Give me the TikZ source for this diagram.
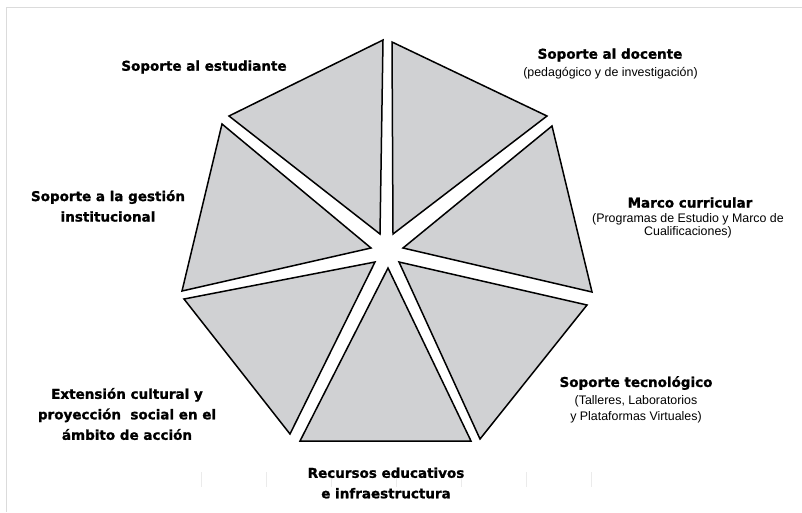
\documentclass[tikz,border=0pt]{standalone}
\usepackage{fontspec}
\setmainfont{Liberation Sans}
\newfontfamily\hdfont{DejaVu Sans}[BoldFeatures={FakeBold=1.2}]
\definecolor{trifill}{RGB}{208,209,211}
\begin{document}
\begin{tikzpicture}[x=1pt,y=-1pt,
  tri/.style={draw=black, line width=1.5pt, fill=trifill, line join=miter},
  hd/.style={font=\hdfont\bfseries\fontsize{13.5}{20.5}\selectfont, align=center, inner sep=0pt},
  sb/.style={font=\fontsize{12.4}{14}\selectfont, align=center, inner sep=0pt},
  framel/.style={draw=black!14, line width=1pt},
  tickl/.style={draw=black!8, line width=0.8pt}]
\useasboundingbox (0,0) rectangle (802,512);
% faint frame
\draw[framel] (802,7) -- (6,7) -- (6,512);
% faint ticks
\foreach \tx in {201.7,266.7,331.7,396.7,461.7,526.7,591.7}
  \draw[tickl] (\tx,472) -- (\tx,487);
% triangles
\filldraw[tri] (383,40) -- (229,116) -- (380,234) -- cycle;
\filldraw[tri] (392,42) -- (547,116) -- (393,234) -- cycle;
\filldraw[tri] (552,126) -- (592,292) -- (403,248) -- cycle;
\filldraw[tri] (587,305) -- (480,439) -- (399,262) -- cycle;
\filldraw[tri] (471,441) -- (300,441) -- (388,268) -- cycle;
\filldraw[tri] (290,434) -- (184,299) -- (375,262) -- cycle;
\filldraw[tri] (182,291) -- (222,124) -- (371,248) -- cycle;
% labels
\node[hd] (est) at (204,67) {Soporte al estudiante};
\node[hd] (doc) at (610,55) {Soporte al docente};
\node[sb] (docs) at (610.5,73.5) {(pedagógico y de investigación)};
\node[hd] (mar) at (690,202.5) {Marco curricular};
\node[sb, font=\fontsize{12.4}{13.3}\selectfont] (mars) at (688,226) {(Programas de Estudio y Marco de\\Cualificaciones)};
\node[hd] (ges) at (108,206) {Soporte a la gestión\\institucional};
\node[hd] (tec) at (636,383) {Soporte tecnológico};
\node[sb, font=\fontsize{12.4}{16}\selectfont] (tecs) at (636,409) {(Talleres, Laboratorios\\y Plataformas Virtuales)};
\node[hd] (ext) at (127,414) {Extensión cultural y\\proyección\ \ social en el\\ámbito de acción};
\node[hd] (rec) at (386,483) {Recursos educativos\\e infraestructura};
\end{tikzpicture}
\end{document}
